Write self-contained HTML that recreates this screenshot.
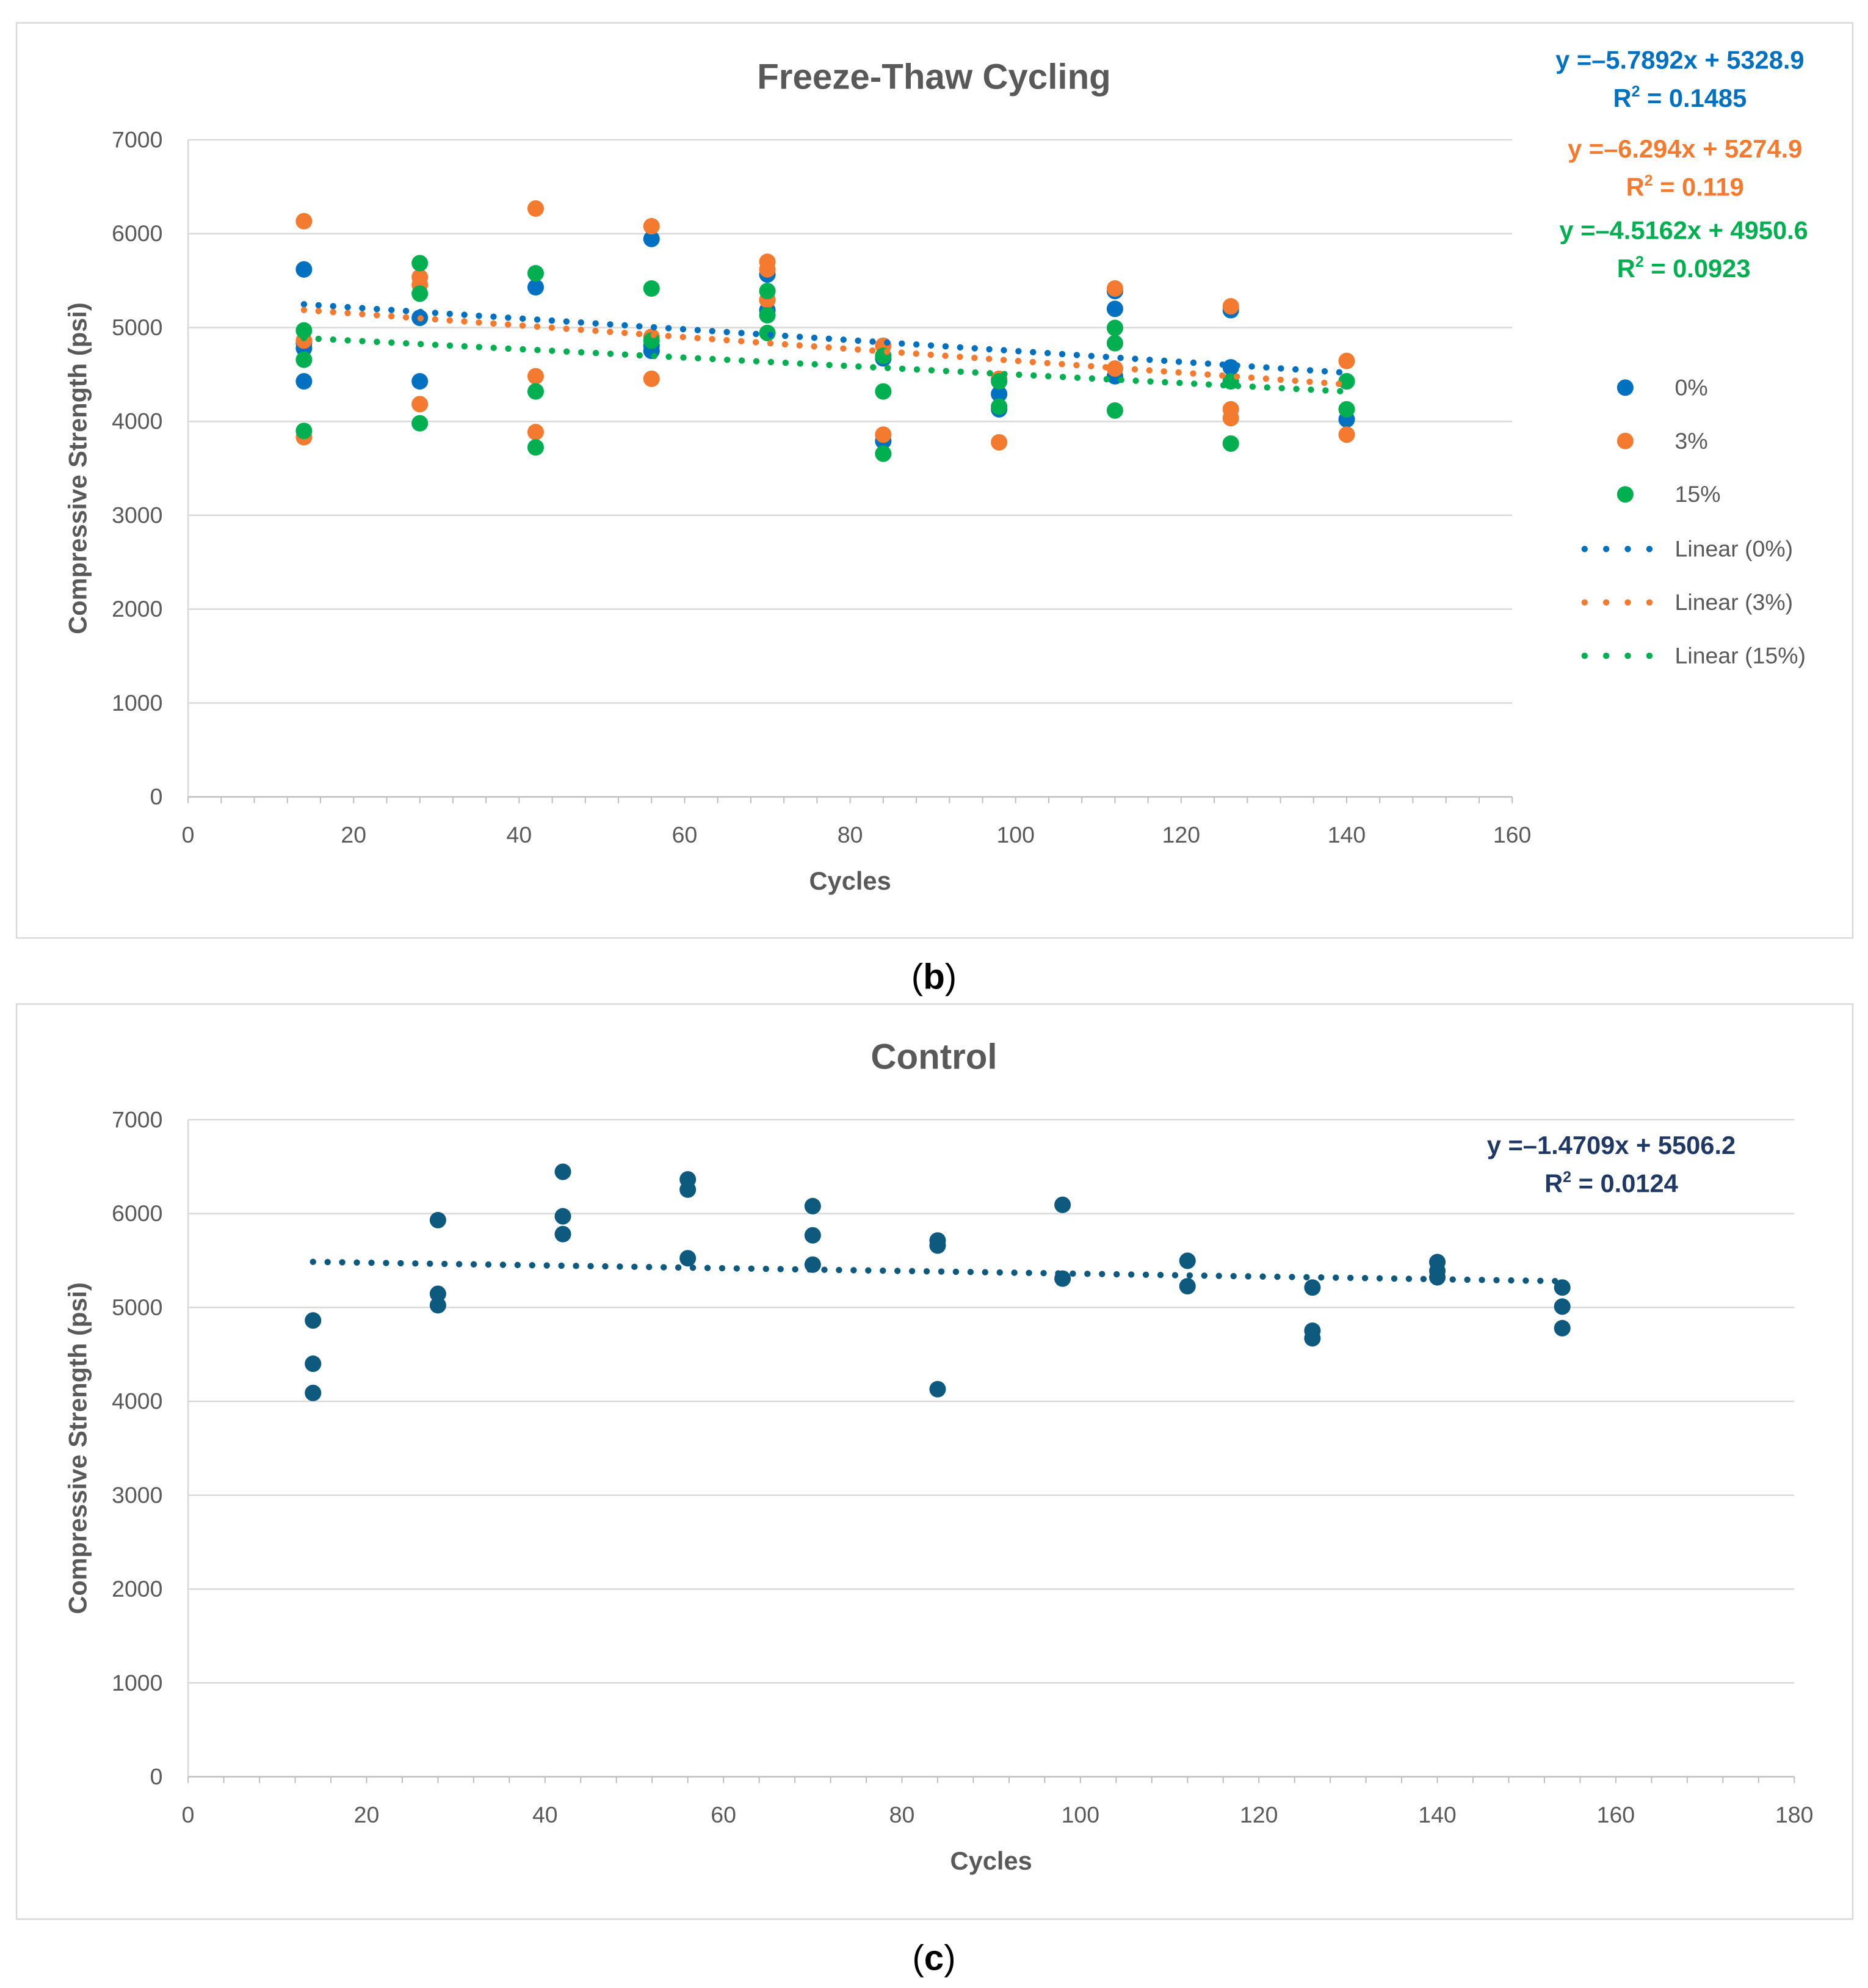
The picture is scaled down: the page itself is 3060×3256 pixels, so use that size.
<!DOCTYPE html>
<html><head><meta charset="utf-8">
<style>
html,body{margin:0;padding:0;background:#fff;}
svg{display:block;}
text{font-family:"Liberation Sans",sans-serif;}
</style></head>
<body>
<svg id="svg" width="3060" height="3256" viewBox="0 0 1470 1564.2" xmlns="http://www.w3.org/2000/svg">
<rect x="13" y="18" width="1445" height="720" fill="#fff" stroke="#d9d9d9" stroke-width="1.2"/>
<rect x="13" y="790" width="1445" height="720" fill="#fff" stroke="#d9d9d9" stroke-width="1.2"/>
<text x="735" y="70" text-anchor="middle" font-size="28" font-weight="bold" fill="#595959">Freeze-Thaw Cycling</text>
<text x="735" y="841" text-anchor="middle" font-size="28" font-weight="bold" fill="#595959">Control</text>
<text x="735" y="778" text-anchor="middle" font-size="28" font-family="Liberation Serif" fill="#000">(<tspan font-weight="bold">b</tspan>)</text>
<text x="735" y="1550" text-anchor="middle" font-size="28" font-family="Liberation Serif" fill="#000">(<tspan font-weight="bold">c</tspan>)</text>
<g id="gb"></g><g id="gc"></g>
<g font-weight="bold" font-size="20" text-anchor="middle">
<text x="1322" y="54" fill="#0070C0">y =–5.7892x + 5328.9</text>
<text x="1322" y="84" fill="#0070C0">R<tspan font-size="12" dy="-8">2</tspan><tspan dy="8"> = 0.1485</tspan></text>
<text x="1326" y="124" fill="#F47A30">y =–6.294x + 5274.9</text>
<text x="1326" y="154" fill="#F47A30">R<tspan font-size="12" dy="-8">2</tspan><tspan dy="8"> = 0.119</tspan></text>
<text x="1325" y="188" fill="#00B050">y =–4.5162x + 4950.6</text>
<text x="1325" y="218" fill="#00B050">R<tspan font-size="12" dy="-8">2</tspan><tspan dy="8"> = 0.0923</tspan></text>
<text x="1268" y="908" fill="#1F3864">y =–1.4709x + 5506.2</text>
<text x="1268" y="938" fill="#1F3864">R<tspan font-size="12" dy="-8">2</tspan><tspan dy="8"> = 0.0124</tspan></text>
</g>
<g font-size="18" fill="#595959">
<g><circle cx="1279" cy="305" r="6.5" fill="#0070C0"/><text x="1318" y="311">0%</text></g>
<g><circle cx="1279" cy="347" r="6.5" fill="#F47A30"/><text x="1318" y="353">3%</text></g>
<g><circle cx="1279" cy="389" r="6.5" fill="#00B050"/><text x="1318" y="395">15%</text></g>
<g><line x1="1247" y1="432" x2="1315" y2="432" stroke="#0070C0" stroke-width="5" stroke-linecap="round" stroke-dasharray="0 17"/><text x="1318" y="438">Linear (0%)</text></g>
<g><line x1="1247" y1="474" x2="1315" y2="474" stroke="#F47A30" stroke-width="5" stroke-linecap="round" stroke-dasharray="0 17"/><text x="1318" y="480">Linear (3%)</text></g>
<g><line x1="1247" y1="516" x2="1315" y2="516" stroke="#00B050" stroke-width="5" stroke-linecap="round" stroke-dasharray="0 17"/><text x="1318" y="522">Linear (15%)</text></g>
</g>
</svg>
<script>
// Chart b data
const cyclesB = [14,28,42,56,70,84,98,112,126,140];
const blueB = [[5619,4834,4427,4780],[5104,4427],[5429],[5944,4806,4752],[5565,5294,5185],[3791,4671],[4129,4292],[5389,5199,4481],[5185,4576],[4021,4427]];
const orangeB = [[6133,4861,3832],[5537,5456,4184],[6268,4481,3886],[6079,4454,4901],[5700,5619,5294],[4806,3859],[3777,4454],[5416,4563],[5226,4129,4035],[4644,3859]];
const greenB = [[4969,4657,3899],[5686,5361,3980],[5578,4319,3723],[5416,4861],[5389,5131,4942],[4698,4319,3656],[4427,4157],[4996,4833,4116],[4427,3764],[4427,4129]];
const trendB = [[-5.7892,5328.9],[-6.294,5274.9],[-4.5162,4950.6]];
// Chart c data
const cyclesC = [14,28,42,56,70,84,98,112,126,140,154];
const controlC = [[4861,4400,4089],[5930,5145,5023],[6445,5971,5781],[6364,6255,5524],[6079,5768,5456],[5713,5659,4129],[6093,5307],[5497,5226],[5212,4752,4671],[5483,5389,5321],[5212,5009,4779]];
const trendC = [-1.4709,5506.2];
const yTicks = [0,1000,2000,3000,4000,5000,6000,7000];
const xTicksB = [0,20,40,60,80,100,120,140,160];
const xTicksC = [0,20,40,60,80,100,120,140,160,180];

const NS='http://www.w3.org/2000/svg';
function mk(tag,attrs,parent){const e=document.createElementNS(NS,tag);for(const k in attrs)e.setAttribute(k,attrs[k]);parent.appendChild(e);return e;}

function axes(g,x0,x1,xmax,y0,y1,xt,label){
  const sx=v=>x0+(x1-x0)*v/xmax, sy=v=>y0-(y0-y1)*v/7000;
  yTicks.forEach(t=>{
    const l=mk('line',{x1:x0,x2:x1,y1:sy(t),y2:sy(t),stroke:'#d9d9d9','stroke-width':1.2},g);
    
    
    const tx=mk('text',{x:x0-20,y:sy(t)+6,'text-anchor':'end','font-size':18,fill:'#595959'},g);
    tx.textContent=t;
    
    
  });
  const ax=mk('line',{x1:x0,x2:x0,y1:y0,y2:y1,stroke:'#d9d9d9','stroke-width':1.2},g);
  
  
  const bx=mk('line',{x1:x0,x2:x1,y1:y0,y2:y0,stroke:'#bfbfbf','stroke-width':1.2},g);
  
  
  for(let v=0;v<=xmax;v+=4){mk('line',{x1:sx(v),x2:sx(v),y1:y0,y2:y0+5,stroke:'#bfbfbf','stroke-width':1},g);}
  xt.forEach(t=>{
    const tx=mk('text',{x:sx(t),y:y0+36,'text-anchor':'middle','font-size':18,fill:'#595959'},g);
    tx.textContent=t;
    
    
  });
  const xl=mk('text',{x:(x0+x1)/2,y:y0+73,'text-anchor':'middle','font-size':20,'font-weight':'bold',fill:'#595959'},g);
  xl.textContent='Cycles';
  
  
  const yl=mk('text',{x:0,y:0,'text-anchor':'middle','font-size':20,'font-weight':'bold',fill:'#595959',transform:`translate(68,${(y0+y1)/2}) rotate(-90)`},g);
  yl.textContent='Compressive Strength (psi)';
  
  
  return [sx,sy];
}
function trend(g,sx,sy,m,b,xa,xb,color,name){
  const l=mk('line',{x1:sx(xa),y1:sy(m*xa+b),x2:sx(xb),y2:sy(m*xb+b),stroke:color,'stroke-width':5,'stroke-linecap':'round','stroke-dasharray':'0 11.5'},g);
  
  
}
function pts(g,sx,sy,xs,vals,color,name){
  xs.forEach((x,i)=>vals[i].forEach(v=>{
    const c=mk('circle',{cx:sx(x),cy:sy(v),r:6.5,fill:color},g);
    
    
  }));
}
const gb=document.getElementById('gb');
const [sxb,syb]=axes(gb,148,1190,160,627,110,xTicksB);
const cols=['#0070C0','#F47A30','#00B050'];
const names=['0pct','3pct','15pct'];
[blueB,orangeB,greenB].forEach((d,i)=>pts(gb,sxb,syb,cyclesB,d,cols[i],'point-'+names[i]));
trendB.forEach((t,i)=>trend(gb,sxb,syb,t[0],t[1],14,140,cols[i],'trendline-'+names[i]));
const gc=document.getElementById('gc');
const [sxc,syc]=axes(gc,148,1412,180,1398,881,xTicksC);
pts(gc,sxc,syc,cyclesC,controlC,'#0E5A7E','point-control');
trend(gc,sxc,syc,trendC[0],trendC[1],14,154,'#0E5A7E','trendline-control');
</script>
</body></html>
